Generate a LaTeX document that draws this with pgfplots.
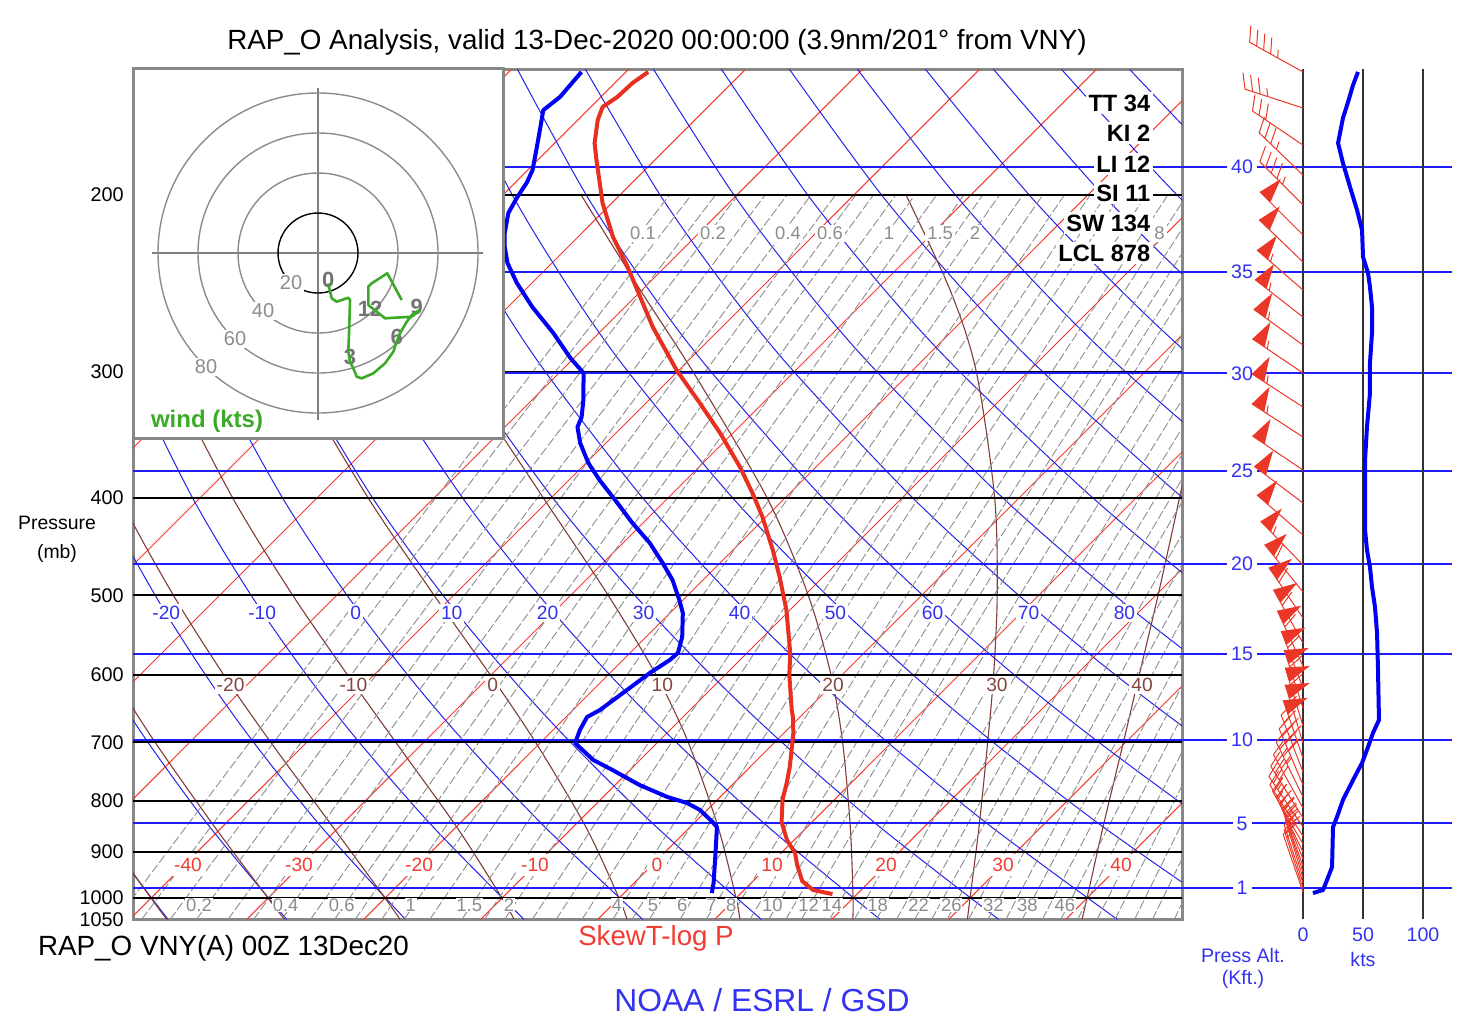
\documentclass[border=0pt]{standalone}
\usepackage{pgfplots}
\pgfplotsset{compat=1.18}
\usepackage{pgfplotstable}
\usepackage{fontspec}
\setmainfont{Liberation Sans}

\definecolor{isored}{RGB}{245,55,45}
\definecolor{tred}{RGB}{232,48,32}
\definecolor{dryblue}{RGB}{35,35,235}
\definecolor{paltblue}{RGB}{30,30,250}
\definecolor{tdblue}{RGB}{0,0,245}
\definecolor{moist}{RGB}{130,60,55}
\definecolor{mixgray}{RGB}{140,140,140}
\definecolor{framegray}{RGB}{135,135,135}
\definecolor{labblue}{RGB}{50,50,240}
\definecolor{labred}{RGB}{240,60,50}
\definecolor{labbrown}{RGB}{130,70,65}
\definecolor{labgray}{RGB}{140,140,140}
\definecolor{hodogreen}{RGB}{60,170,40}
\definecolor{barbred}{RGB}{235,55,40}

\newcommand\fs[1]{\fontsize{#1}{#1}\selectfont}
\pgfplotsset{table/skew/.style={x expr={\thisrow{T}+37.33*ln(1000/\thisrow{p})},y=p}}
\tikzset{lab/.style={inner sep=1pt, fill=white, font=\fs{9.6}},
         isolab/.style={lab, text=labred, inner sep=2.2pt},
         drylab/.style={lab, text=labblue},
         moistlab/.style={lab, text=labbrown},
         mixlabt/.style={lab, text=labgray, font=\fs{9.2}},
         mixlabb/.style={lab, text=labgray, font=\fs{9.2}, inner sep=0.4pt},
         altlab/.style={lab, text=labblue, inner sep=2pt, font=\fs{9.8}},
         hodolab/.style={lab, text=labgray, font=\fs{10}},
         hodonum/.style={text=black!55, font=\bfseries\fs{11}, inner sep=0pt}}
\newcommand\axnode[4]{\edef\tmpnode{\noexpand\node[#1] at (axis cs:#2,#3) {#4};}\tmpnode}

% ---------- wind barb plot mark (speed/direction given as mark options) ----------
\pgfkeys{/barb/spd/.initial=0,/barb/dir/.initial=0}
\pgfdeclareplotmark{windbarb}{%
  \pgfmathsetmacro\bspd{\pgfkeysvalueof{/barb/spd}}%
  \pgfmathsetmacro\bang{90-\pgfkeysvalueof{/barb/dir}}%
  \pgfmathtruncatemacro\nflag{\bspd/50}%
  \pgfmathtruncatemacro\nfull{(\bspd-50*\nflag)/10}%
  \pgfmathtruncatemacro\nhalf{(\bspd-50*\nflag-10*\nfull)/5}%
  \pgftransformrotate{\bang}%
  \def\bp{30.5}%
  \ifnum\nflag>0
    \pgfpathmoveto{\pgfpoint{30.5pt}{0pt}}%
    \pgfpathlineto{\pgfpoint{27.7pt}{-12pt}}%
    \pgfpathlineto{\pgfpoint{23.1pt}{0pt}}%
    \pgfpathclose
    \pgfusepath{fill}%
    \def\bp{21.5}%
  \fi
  \pgfpathmoveto{\pgfpointorigin}\pgfpathlineto{\pgfpoint{30.5pt}{0pt}}%
  \ifnum\nfull>0 \pgfpathmoveto{\pgfpoint{\bp pt}{0pt}}\pgfpathlineto{\pgfpoint{\bp pt+3.5pt}{-7.5pt}}\pgfmathsetmacro\bp{\bp-4}\fi
  \ifnum\nfull>1 \pgfpathmoveto{\pgfpoint{\bp pt}{0pt}}\pgfpathlineto{\pgfpoint{\bp pt+3.5pt}{-7.5pt}}\pgfmathsetmacro\bp{\bp-4}\fi
  \ifnum\nfull>2 \pgfpathmoveto{\pgfpoint{\bp pt}{0pt}}\pgfpathlineto{\pgfpoint{\bp pt+3.5pt}{-7.5pt}}\pgfmathsetmacro\bp{\bp-4}\fi
  \ifnum\nfull>3 \pgfpathmoveto{\pgfpoint{\bp pt}{0pt}}\pgfpathlineto{\pgfpoint{\bp pt+3.5pt}{-7.5pt}}\pgfmathsetmacro\bp{\bp-4}\fi
  \ifnum\nhalf>0 \pgfpathmoveto{\pgfpoint{\bp pt}{0pt}}\pgfpathlineto{\pgfpoint{\bp pt+1.75pt}{-3.75pt}}\fi
  \pgfusepath{stroke}%
}

% ---------- sounding: temperature ----------
\pgfplotstableread{
T p
17.9 990.9
15.9 981.8
14.2 961.8
12.3 925.1
11.2 902.1
9.4 875.7
7.4 840.3
5.6 799.0
4.5 768.5
3.4 740.9
2.1 712.6
0.8 685.4
-0.6 660.8
-1.3 650.3
-4.5 600.2
-6.3 570.7
-10.3 517.2
-13.7 479.6
-16.6 450.8
-20.3 418.0
-23.2 395.7
-26.5 372.8
-31.1 344.9
-35.4 322.0
-40.2 298.6
-45.9 270.6
-53.2 235.8
-57.0 220.2
-60.8 203.7
-65.0 184.6
-66.6 177.6
-68.3 168.5
-69.0 163.5
-68.6 159.8
-68.5 154.8
-68.1 150.9
}\temptab

% ---------- sounding: dew point ----------
\pgfplotstableread{
T p
7.5 988.6
6.8 966.2
4.4 902.1
2.3 850.0
1.5 840.3
-0.6 817.5
-2.3 804.5
-4.5 793.6
-7.9 772.1
-11.5 746.0
-14.0 729.1
-17.0 701.3
-17.7 680.7
-18.2 660.8
-17.7 650.3
-17.1 621.2
-16.6 597.5
-16.0 579.9
-15.9 570.7
-16.9 550.2
-18.9 520.7
-20.3 505.5
-22.6 482.9
-24.9 464.4
-27.7 443.7
-30.9 423.8
-33.9 404.8
-37.4 384.0
-39.8 369.4
-42.2 352.9
-43.8 340.2
-44.3 332.5
-45.6 319.8
-47.9 300.6
-50.3 290.5
-53.9 274.3
-57.9 258.5
-61.3 244.6
-63.8 233.7
-65.4 225.3
-66.6 218.2
-68.0 208.4
-68.6 200.9
-69.0 194.6
-69.6 188.9
-71.2 179.2
-72.6 171.2
-73.8 164.7
-73.5 159.8
-73.8 150.9
}\dewtab

% ---------- dry adiabats (T in C at each p, one column per theta) ----------
\pgfplotstableread{
p m40 m30 m20 m10 z0 p10 p20 p30 p40 p50 p60 p70 p80 p90 p100 p110 p120 p130 p140 p150
1050 -36.72 -26.58 -16.44 -6.30 3.84 13.98 24.12 34.26 44.40 54.54 64.68 74.82 84.96 95.10 105.24 115.38 125.52 135.66 145.81 155.95
850 -50.59 -41.04 -31.50 -21.95 -12.40 -2.86 6.69 16.23 25.78 35.33 44.87 54.42 63.96 73.51 83.06 92.60 102.15 111.69 121.24 130.78
700 -62.61 -53.58 -44.55 -35.52 -26.49 -17.46 -8.43 0.60 9.63 18.66 27.69 36.72 45.75 54.78 63.81 72.84 81.87 90.90 99.93 108.96
600 -71.69 -63.05 -54.41 -45.77 -37.13 -28.49 -19.85 -11.21 -2.57 6.07 14.72 23.36 32.00 40.64 49.28 57.92 66.56 75.20 83.84 92.48
500 -81.93 -73.73 -65.52 -57.32 -49.12 -40.92 -32.72 -24.52 -16.31 -8.11 0.09 8.29 16.49 24.69 32.90 41.10 49.30 57.50 65.70 73.90
400 -93.75 -86.05 -78.36 -70.66 -62.97 -55.27 -47.58 -39.88 -32.19 -24.50 -16.80 -9.11 -1.41 6.28 13.98 21.67 29.37 37.06 44.76 52.45
300 -107.92 -100.83 -93.75 -86.66 -79.57 -72.49 -65.40 -58.31 -51.22 -44.14 -37.05 -29.96 -22.87 -15.79 -8.70 -1.62 5.47 12.56 19.65 26.73
250 -116.31 -109.58 -102.86 -96.13 -89.40 -82.68 -75.95 -69.22 -62.49 -55.77 -49.04 -42.31 -35.59 -28.86 -22.13 -15.40 -8.68 -1.95 4.78 11.50
200 -126.00 -119.69 -113.38 -107.06 -100.75 -94.44 -88.13 -81.82 -75.51 -69.20 -62.88 -56.57 -50.26 -43.95 -37.64 -31.33 -25.02 -18.71 -12.39 -6.08
150 -137.63 -131.81 -126.00 -120.19 -114.37 -108.56 -102.75 -96.94 -91.12 -85.31 -79.50 -73.69 -67.87 -62.06 -56.25 -50.44 -44.62 -38.81 -33.00 -27.18
}\drytab

% ---------- moist adiabats ----------
\pgfplotstableread{
p mm40 mm30 mm20 mm10 mz0 mp10 mp20 mp30 mp40
1050 -36.83 -26.78 -16.90 -7.15 2.50 12.15 21.80 31.60 41.40
1000 -40 -30 -20 -10 0 10 20 30 40
850 -50.36 -40.62 -30.52 -19.94 -8.90 2.40 13.70 24.70 35.30
700 -62.35 -52.97 -43.08 -32.40 -20.45 -7.40 5.80 18.20 29.80
600 -71.44 -62.37 -52.85 -42.27 -30.07 -15.90 -0.95 12.95 25.40
500 -81.69 -73.08 -63.96 -53.76 -41.68 -26.80 -9.70 6.45 20.20
400 -93.53 -85.45 -76.86 -67.23 -55.65 -40.68 -21.55 -2.10 13.70
300 -107.71 -100.27 -92.36 -83.47 -72.73 -58.50 -38.60 -14.40 5.20
250 -116.11 -109.05 -101.54 -93.11 -82.90 -69.30 -49.80 -23.37 -0.50
200 -125.82 -119.19 -112.15 -104.20 -94.64 -81.89 -63.32 -35.55 -7.90
}\moisttab

% ---------- mixing-ratio lines ----------
\pgfplotstableread{
p c1 c2 c3 c4 c5 c6 c7 c8 c9 c10 c11 c12 c13 c14 c15 c16 c17 c18 c19 c20 c21 c22 c23 c24 c25 c26 c27 c28 c29 c30 c31 c32 c33 c34 c35 c36 c37 c38 c39 c40 c41 c42 c43 c44 c45 c46 c47 c48
1050 -41.11 -38.97 -36.54 -34.29 -31.59 -29.40 -27.00 -24.54 -22.49 -20.73 -18.47 -16.55 -14.35 -11.60 -9.66 -7.95 -5.59 -3.55 -1.34 1.29 2.93 4.42 7.03 9.27 11.25 13.01 14.61 16.07 17.41 19.82 21.94 23.83 25.54 27.10 28.54 29.87 31.70 33.36 34.88 36.29 38.01 39.58 41.03 42.69 44.22 45.89 47.42 49.28
500 -47.94 -45.93 -43.67 -41.58 -39.06 -37.02 -34.79 -32.51 -30.61 -28.97 -26.88 -25.09 -23.06 -20.51 -18.72 -17.15 -14.96 -13.08 -11.05 -8.62 -7.11 -5.75 -3.35 -1.29 0.53 2.15 3.61 4.95 6.18 8.39 10.32 12.05 13.61 15.04 16.35 17.56 19.23 20.74 22.13 23.41 24.98 26.41 27.72 29.23 30.62 32.13 33.52 35.21
200 -55.76 -53.91 -51.83 -49.90 -47.59 -45.72 -43.67 -41.58 -39.84 -38.34 -36.43 -34.80 -32.94 -30.62 -28.99 -27.56 -25.57 -23.86 -22.01 -19.81 -18.44 -17.20 -15.03 -13.17 -11.53 -10.07 -8.74 -7.54 -6.43 -4.44 -2.69 -1.14 0.27 1.55 2.72 3.81 5.31 6.66 7.91 9.05 10.46 11.74 12.91 14.26 15.50 16.85 18.09 19.59
}\mixtab

% ---------- wind speed profile ----------
\pgfplotstableread{
s p
8.3 988.6
16.7 981.8
20.0 959.6
24.2 931.5
25.0 850.0
28.3 830.7
33.3 799.0
41.7 763.3
49.2 734.1
54.2 707.7
58.3 685.4
63.3 665.3
62.5 593.3
61.7 545.2
60.0 513.7
57.5 490.7
55.8 468.7
53.3 450.8
51.7 430.7
51.7 366.9
53.3 340.2
55.8 314.7
55.8 293.8
57.5 274.3
57.5 258.5
55.8 246.9
54.2 239.1
50.0 230.5
49.2 216.7
45.0 207.0
39.2 196.4
33.3 185.9
29.2 177.6
33.3 167.7
37.5 161.7
41.7 155.5
45.8 150.9
}\spdtab

% ---------- wind barbs ----------
\pgfplotstableread{
p spd dir
150.9 45 299
163.9 35 288
178.4 30 304
191.1 35 314
204.6 45 315
219.2 50 315
233.2 50 314
248.6 55 311
264.5 55 308
282.0 55 306
300.6 55 304
325.0 55 303
348.1 55 303
375.4 50 304
404.8 50 307
435.6 50 311
466.6 55 316
496.3 60 321
526.8 60 326
557.8 60 331
587.9 60 335
618.3 65 339
647.3 65 342
674.5 60 343
701.3 55 343
725.8 50 341
749.4 45 339
772.1 40 337
793.6 35 334
813.8 30 331
832.6 30 328
850.0 25 326
867.7 25 327
883.7 25 330
900.0 25 334
914.6 25 338
929.4 25 340
942.2 20 342
955.2 20 343
966.2 20 342
977.4 15 342
986.4 10 341
}\barbtab

\begin{document}
\begin{tikzpicture}
\path[use as bounding box] (0pt,0pt) rectangle (741pt,-514pt);

% ================= main skew-T axis =================
\begin{axis}[
  at={(66.5pt,-34.65pt)}, anchor=north west,
  width=524.5pt, height=425pt, scale only axis,
  xmin=-41.54, xmax=48.12,
  ymode=log, y dir=reverse, ymin=150, ymax=1050,
  ticks=none, axis line style={draw=framegray, line width=1.5pt},
  clip=true,
]
% isotherms
\pgfplotsinvokeforeach{-110,-100,...,40}{
  \addplot[isored, line width=0.5pt] table[skew, row sep=\\]{T p\\ #1 1050\\ #1 150\\};
}
% dry adiabats
\pgfplotsinvokeforeach{m40,m30,m20,m10,z0,p10,p20,p30,p40,p50,p60,p70,p80,p90,p100,p110,p120,p130,p140,p150}{
  \addplot[dryblue, line width=0.5pt, smooth] table[x expr={\thisrow{#1}+37.33*ln(1000/\thisrow{p})}, y=p]{\drytab};
}
% moist adiabats
\pgfplotsinvokeforeach{mm40,mm30,mm20,mm10,mz0,mp10,mp20,mp30,mp40}{
  \addplot[moist, line width=0.55pt, smooth] table[x expr={\thisrow{#1}+37.33*ln(1000/\thisrow{p})}, y=p]{\moisttab};
}
% mixing ratio lines
\pgfplotsinvokeforeach{1,...,48}{
  \addplot[mixgray, line width=0.45pt, dash pattern=on 4.5pt off 1.4pt, smooth] table[x expr={\thisrow{c#1}+37.33*ln(1000/\thisrow{p})}, y=p]{\mixtab};
}
% isobars
\pgfplotsinvokeforeach{200,300,400,500,600,700,800,900,1000}{
  \addplot[black, line width=1pt] coordinates {(-41.54,#1) (48.12,#1)};
}
% pressure-altitude lines
\pgfplotsinvokeforeach{977.2,843.1,696.8,571.8,465.6,376.0,300.9,238.4,187.5}{
  \addplot[paltblue, line width=1pt] coordinates {(-41.54,#1) (48.12,#1)};
}
% isotherm labels
\foreach \xx/\lb in {-36.84/-40,-27.35/-30,-17.09/-20,-7.18/-10,3.25/0,13.08/10,22.82/20,32.82/30,42.91/40}
  {\axnode{isolab}{\xx}{927.2}{\lb}}
% dry adiabat labels
\foreach \xx/\lb in {-38.7/-20,-30.5/-10,-22.5/0,-14.3/10,-6.1/20,2.1/30,10.3/40,18.5/50,26.8/60,35.0/70,43.2/80}
  {\axnode{drylab}{\xx}{520.7}{\lb}}
% moist adiabat labels
\foreach \xx/\lb in {-33.2/-20,-22.7/-10,-10.8/0,3.7/10,18.3/20,32.3/30,44.7/40}
  {\axnode{moistlab}{\xx}{614.1}{\lb}}
% mixing ratio labels (top)
\foreach \xx/\lb in {2.05/0.1,8.03/0.2,14.44/0.4,18.03/0.6,23.08/1,27.44/1.5,30.43/2,46.2/8}
  {\axnode{mixlabt}{\xx}{218.2}{\lb}}
% mixing ratio labels (bottom)
\foreach \xx/\lb in {-35.9/0.2,-28.5/0.4,-23.7/0.6,-17.8/1,-12.8/1.5,-9.4/2,-0.2/4,2.9/5,5.4/6,7.9/7,9.6/8,13.1/10,16.2/12,18.2/14,22.1/18,25.6/22,28.4/26,32.0/32,34.9/38,38.1/46}
  {\axnode{mixlabb}{\xx}{1016.2}{\lb}}
% sounding
\addplot[tdblue, line width=2pt, line join=round] table[skew]{\dewtab};
\addplot[tred, line width=2pt, line join=round] table[skew]{\temptab};
\end{axis}

% ================= right panel: wind =================
\begin{axis}[
  at={(591pt,-34.65pt)}, anchor=north west,
  width=135pt, height=425pt, scale only axis,
  xmin=-100.83, xmax=124.17,
  ymode=log, y dir=reverse, ymin=150, ymax=1050,
  hide axis, clip=false,
]
\pgfplotsinvokeforeach{977.2,843.1,696.8,571.8,465.6,376.0,300.9,238.4,187.5}{
  \addplot[paltblue, line width=1pt] coordinates {(-100.83,#1) (124.17,#1)};
}
\foreach \pp/\lb in {977.2/1,843.1/5,696.8/10,571.8/15,465.6/20,376.0/25,300.9/30,238.4/35,187.5/40}
  {\axnode{altlab}{-50.8}{\pp}{\lb}}
\pgfplotsinvokeforeach{0,50,100}{
  \addplot[black!80, line width=1pt] coordinates {(#1,150) (#1,1050)};
}
% barbs: one plot per table row, speed and direction passed to the mark
\pgfplotstablegetrowsof{\barbtab}
\pgfmathtruncatemacro\nbarb{\pgfplotsretval-1}
\foreach \i in {0,...,\nbarb}{%
  \pgfplotstablegetelem{\i}{p}\of\barbtab \let\bbp\pgfplotsretval
  \pgfplotstablegetelem{\i}{spd}\of\barbtab \let\bbs\pgfplotsretval
  \pgfplotstablegetelem{\i}{dir}\of\barbtab \let\bbd\pgfplotsretval
  \edef\doit{\noexpand\addplot[barbred, only marks, mark=windbarb, mark options={line width=0.5pt, fill=barbred, draw=barbred, /barb/spd=\bbs, /barb/dir=\bbd}] coordinates {(0,\bbp)};}%
  \doit
}
\addplot[tdblue, line width=2pt, line join=round] table[x=s, y=p]{\spdtab};
\end{axis}

% ================= hodograph inset =================
\begin{axis}[
  at={(66.5pt,-34pt)}, anchor=north west,
  width=185pt, height=185pt, scale only axis,
  xmin=-92.5, xmax=92.5, ymin=-92.5, ymax=92.5,
  ticks=none, axis line style={draw=framegray, line width=1.5pt},
  axis background/.style={fill=white},
]
\addplot[gray, line width=0.6pt] coordinates {(-83,0) (82.5,0)};
\addplot[gray, line width=0.6pt] coordinates {(0,-83.5) (0,82.5)};
\draw[labgray, line width=0.7pt] (axis cs:0,0) circle[radius=40pt];
\draw[labgray, line width=0.7pt] (axis cs:0,0) circle[radius=60pt];
\draw[labgray, line width=0.7pt] (axis cs:0,0) circle[radius=80pt];
\draw[black, line width=0.7pt] (axis cs:0,0) circle[radius=20pt];
\foreach \ux/\uy/\lb in {-13.5/-15/20,-27.5/-29/40,-41.5/-43/60,-56/-57/80}
  {\axnode{hodolab}{\ux}{\uy}{\lb}}
\foreach \ux/\uy/\lb in {5.15/-13.5/0,16/-51.85/3,39.35/-41.85/6,49.35/-26.85/9,26/-27.65/12}
  {\axnode{hodonum}{\ux}{\uy}{\lb}}
\addplot[hodogreen, line width=1.3pt, line join=round] coordinates {
(5.15,-15.15) (5.65,-17.65) (6.85,-22.65) (9.35,-24.35) (15.15,-22.35) (16,-23.5)
(15.65,-36) (15.15,-49.35) (16,-54.35) (17.65,-57.65) (19.35,-61.85) (21.85,-62.65)
(27.65,-60.15) (33.5,-55.15) (37.65,-49.35) (39.35,-44.35) (41,-40.15) (44.35,-34.35)
(47.65,-30.15) (51,-28.5) (46.85,-31.85) (33.5,-32.65) (25.15,-26) (25.15,-16.85)
(26.85,-15.15) (34.65,-10.15) (41.85,-23.5)};
\node[text=hodogreen, font=\bfseries\fs{12}] at (axis cs:-55.5,-84) {wind (kts)};
\end{axis}

% ================= texts (pixel coordinates) =================
\begin{scope}[x=0.5pt,y=-0.5pt]
\node[font=\fs{13.9}] at (657,42) {RAP\_O Analysis, valid 13-Dec-2020 00:00:00 (3.9nm/201° from VNY)};
\foreach \yy/\lb in {195/200,372.1/300,497.8/400,595.2/500,674.9/600,742.2/700,800.5/800,852/900,898/1000,919.3/1050}
  \node[anchor=east, font=\fs{9.9}, inner sep=0pt] at (124,\yy) {\lb};
\node[font=\fs{9.7}] at (57,523) {Pressure};
\node[font=\fs{9.7}] at (57,553) {(mb)};
\foreach \yy/\lb in {103/TT 34,133/KI 2,164/LI 12,193/SI 11,223/SW 134,253/LCL 878}
  \node[anchor=east, fill=white, inner sep=1.2pt, font=\bfseries\fs{11.8}] at (1153,\yy) {\lb};
\node[anchor=west, font=\fs{13.9}] at (31,948) {RAP\_O VNY(A) 00Z 13Dec20};
\node[text=labred, font=\fs{13.85}] at (656,938) {SkewT-log P};
\node[text=labblue, font=\fs{15.9}] at (762,1000) {NOAA / ESRL / GSD};
\node[text=labblue, font=\fs{9.8}] at (1243,955) {Press Alt.};
\node[text=labblue, font=\fs{9.8}] at (1243,979) {(Kft.)};
\node[text=labblue, font=\fs{9.8}] at (1303,935) {0};
\node[text=labblue, font=\fs{9.8}] at (1363,935) {50};
\node[text=labblue, font=\fs{9.8}] at (1423,935) {100};
\node[text=labblue, font=\fs{9.8}] at (1363,959) {kts};
\end{scope}
\end{tikzpicture}
\end{document}
